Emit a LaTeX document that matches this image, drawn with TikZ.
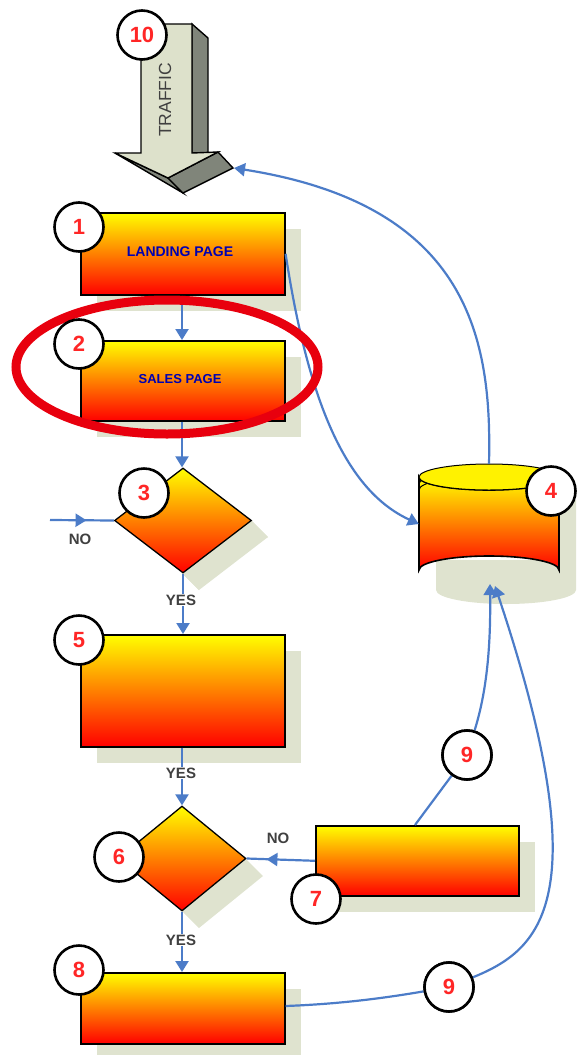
\documentclass[tikz,border=0pt]{standalone}
\usepackage{fontspec}
\setmainfont{Liberation Sans}
\usetikzlibrary{shapes.geometric,arrows.meta,decorations.markings}
\definecolor{shad}{HTML}{DFE3CF}
\definecolor{flow}{HTML}{4C7CC8}
\definecolor{arrowlight}{HTML}{DDE1CB}
\definecolor{arrowdark}{HTML}{80857A}
\definecolor{ringred}{HTML}{E8000E}
\tikzset{
  x=1pt,y=-1pt,
  stepbox/.style={rectangle,draw=black,line width=1.6pt,top color=yellow,bottom color=red,inner sep=0pt,anchor=north west},
  dec/.style={diamond,draw=black,line width=1.3pt,top color=yellow,bottom color=red,inner sep=0pt,shape aspect=1.3},
  shadowshape/.style={fill=shad,draw=none},
  badge/.style={circle,draw=black,line width=2.6pt,fill=white,minimum size=49pt,inner sep=0pt,text=red!85!white,font=\fontsize{22}{22}\selectfont\bfseries},
  conn/.style={draw=flow,line width=2.2pt},
  tip/.style={-{Triangle[length=11pt,width=13pt]}},
  midtip/.style={postaction={decorate},decoration={markings,mark=at position #1 with {\arrow[flow]{Triangle[length=11pt,width=13pt,reversed=false]}}}},
  lab/.style={fill=white,inner sep=1pt,text=black!75,font=\fontsize{15}{15}\selectfont\bfseries},
  pagetext/.style={text=blue!70!black,font=\fontsize{14}{14}\selectfont\bfseries},
}
\begin{document}
\begin{tikzpicture}
\useasboundingbox (0,0) rectangle (576,1055);
% shadows
\fill[shad] (97,229) rectangle (301,311);
\fill[shad] (97,357) rectangle (301,437);
\fill[shad] (199,573) -- (268,537) -- (251,520) -- (182,573) -- (199,590) -- cycle;
\fill[shad] (182,573) -- (251,520) -- (268,537) -- (199,590) -- cycle;
\fill[shad] (97,651) rectangle (301,763);
\fill[shad] (182,911) -- (246,859) -- (263,876) -- (199,928) -- cycle;
\fill[shad] (332,842) rectangle (535,912);
\fill[shad] (97,989) rectangle (301,1055);
\fill[shad] (436,560) rectangle (576,590);
\fill[shad] (436,590) arc[x radius=70,y radius=14,start angle=180,end angle=0] -- (576,500) -- (559,500) -- (559,590) -- cycle;
% traffic arrow
\filldraw[fill=arrowdark,draw=black,line width=1.4pt] (192,24) -- (208,38) -- (208,153) -- (192,153) -- cycle;
\filldraw[fill=arrowdark,draw=black,line width=1.4pt] (115,153) -- (168,178) -- (183,193) -- cycle;
\filldraw[fill=arrowdark,draw=black,line width=1.4pt] (168,178) -- (218,152) -- (233,168) -- (183,193) -- cycle;
\filldraw[fill=arrowlight,draw=black,line width=1.4pt] (141,24) -- (192,24) -- (192,153) -- (218,152) -- (168,178) -- (115,153) -- (141,153) -- cycle;
\coordinate (trafficin) at (234,168);
\node[rotate=90,text=black!75,font=\fontsize{17.5}{17.5}\selectfont] (traffic) at (165,100) {TRAFFIC};
% boxes
\node[stepbox,minimum width=204pt,minimum height=82pt] (b1) at (80,212) {};
\node[pagetext] (t1) at (180,252) {LANDING PAGE};
\node[stepbox,minimum width=204pt,minimum height=80pt] (b2) at (80,340) {};
\node[pagetext,font=\fontsize{13}{13}\selectfont\bfseries] (t2) at (180,379) {SALES PAGE};
\node[dec,minimum width=137pt,minimum height=105pt] (d3) at (183,520.5) {};
\node[stepbox,minimum width=204pt,minimum height=112pt] (b5) at (80,634) {};
\node[dec,minimum width=128pt,minimum height=105pt] (d6) at (182,858.5) {};
\node[stepbox,minimum width=203pt,minimum height=70pt] (b7) at (315,825) {};
\node[stepbox,minimum width=204pt,minimum height=71pt] (b8) at (80,972) {};
% database
\node[rectangle,minimum width=140pt,minimum height=120pt,inner sep=0pt] (db) at (489,524) {};
\draw[line width=1.6pt,top color=yellow,bottom color=red] (419,477) -- (419,570) arc[x radius=70,y radius=14,start angle=180,end angle=360] -- (559,477) arc[x radius=70,y radius=13,start angle=0,end angle=180] -- cycle;
\draw[line width=1pt] (419,484) arc[x radius=70,y radius=14,start angle=180,end angle=360];
\draw[line width=1pt] (419,490) arc[x radius=70,y radius=14,start angle=180,end angle=360];
\draw[line width=1pt,fill=yellow] (419,477) arc[x radius=70,y radius=13,start angle=180,end angle=540];
% connectors
\draw[conn,tip] (b1.south-|182,0) -- (b2.north-|182,0);
\draw[conn,tip] (b2.south-|182,0) -- (d3.north-|182,0);
\coordinate (noend) at (50,520);
\draw[conn,midtip=0.6] (d3.west) -- (noend);
\draw[conn,tip] (d3.south) -- (b5.north-|d3.south);
\draw[conn,tip] (b5.south-|182,0) -- (d6.north);
\draw[conn,midtip=0.45] (d6.east) -- (b7.west);
\draw[conn,tip] (d6.south) -- (b8.north-|d6.south);
\draw[conn,tip] (b1.east) .. controls (308,400) and (345,490) .. (db.west);
\draw[conn,tip] (db.north) .. controls (492,340) and (470,205) .. (trafficin);
% badges 9 first as nodes, connectors pass under
\node[badge] (n9a) at (467,755) {9};
\node[badge] (n9b) at (449,987) {9};
\draw[conn] (b7.north-|415,0) -- (n9a);
\draw[conn,tip] (n9a) .. controls (484,700) and (491,660) .. (490,584);
\draw[conn] (b8.east|-0,1006) .. controls (340,1004) and (385,998) .. (n9b);
\draw[conn,tip] (n9b) .. controls (540,950) and (600,900) .. (495,586);
\node[badge] at (n9a) {9};
\node[badge] at (n9b) {9};
% labels
\node[lab] (no1) at (80,539) {NO};
\node[lab] (yes1) at (181,600) {YES};
\node[lab] (yes2) at (181,773) {YES};
\node[lab] (yes3) at (181,940) {YES};
\node[lab] (no2) at (278,838) {NO};
% ring
\draw[draw=ringred,line width=9pt] (167,367) ellipse[x radius=151,y radius=67];
% badges
\node[badge] (n10) at (142,35) {10};
\node[badge] (n1) at (79,227) {1};
\node[badge] (n2) at (79,344) {2};
\node[badge] (n3) at (144,493) {3};
\node[badge] (n4) at (551,491) {4};
\node[badge] (n5) at (79,640) {5};
\node[badge] (n6) at (119,857) {6};
\node[badge] (n7) at (316,899) {7};
\node[badge] (n8) at (79,970) {8};
\end{tikzpicture}
\end{document}
